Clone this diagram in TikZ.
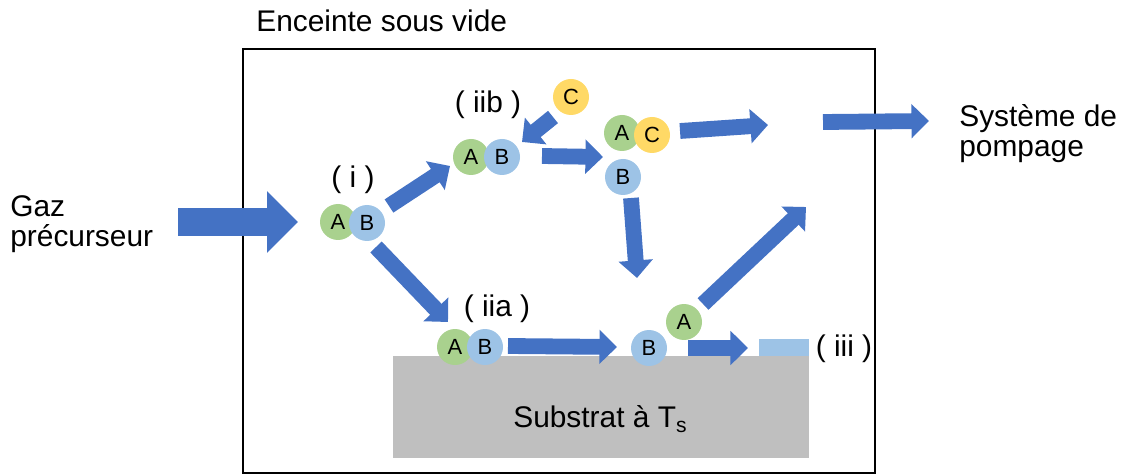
\documentclass[tikz,border=0pt]{standalone}
\usepackage{fontspec}
\setmainfont{Liberation Sans}
\usetikzlibrary{arrows.meta}
\definecolor{flowblue}{HTML}{4472C4}
\definecolor{atomgreen}{HTML}{A9D18E}
\definecolor{atomblue}{HTML}{9DC3E6}
\definecolor{atomyellow}{HTML}{FFD966}
\definecolor{substgray}{HTML}{BFBFBF}
\tikzset{
	atom/.style={circle, minimum size=0.72cm, inner sep=0pt, font=\fontsize{12.5}{14}\selectfont},
	txt/.style={anchor=base west, inner sep=0pt},
	flow/.style={draw=flowblue, line width=9pt, -{Triangle[length=10pt,width=19pt]}},
	bigflow/.style={draw=flowblue, line width=16.4pt, -{Triangle[length=17.6pt,width=34pt]}},
}
\begin{document}
\begin{tikzpicture}[x=0.02cm, y=-0.02cm, font=\fontsize{17}{20}\selectfont]
	\useasboundingbox (0,0) rectangle (1124,475);
	\draw[line width=1.1pt] (243,49) rectangle (875,473);
	\fill[substgray] (393,356) rectangle (809,458);
	\fill[atomblue] (759,339) rectangle (809,356);
	\node[txt] (subst) at (513,427) {Substrat à T\raisebox{-0.35ex}{\fontsize{12}{14}\selectfont s}};
	\node[txt] (enceinte) at (256,32) {Enceinte sous vide};
	\node[txt] (gaz) at (10,217) {Gaz};
	\node[txt] (precurseur) at (10,247) {précurseur};
	\node[txt] (systeme) at (959,127) {Système de};
	\node[txt] (pompage) at (959,157) {pompage};
	\foreach \n/\p/\t in {li/{353,180}/( i ), liib/{488,105}/( iib ), liia/{497,309}/( iia ), liii/{844,349}/( iii )}
		\node (\n) at (\p) {\t};
	\foreach \n/\p/\c/\t in {iA/{338,222}/atomgreen/A, iB/{367,223}/atomblue/B,
		iibA/{471,157}/atomgreen/A, iibB/{502,157}/atomblue/B, libreC/{571,97}/atomyellow/C,
		acA/{622,133}/atomgreen/A, acC/{652,135}/atomyellow/C, libreB/{623,177}/atomblue/B,
		iiaA/{455,347}/atomgreen/A, iiaB/{485,347}/atomblue/B,
		surfB/{649,348}/atomblue/B, desA/{684,322}/atomgreen/A}
		\node[atom, fill=\c] (\n) at (\p) {\t};
	\path
	(178,222) coordinate (in0) (298,222) coordinate (in1)
	(389,206) coordinate (a1) (450,166) coordinate (b1)
	(376,247) coordinate (a2) (448,322) coordinate (b2)
	(553,117) coordinate (a3) (522,142) coordinate (b3)
	(542,156) coordinate (a4) (603,157) coordinate (b4)
	(680,131) coordinate (a5) (768,125) coordinate (b5)
	(823,122) coordinate (a6) (929,121) coordinate (b6)
	(631,198) coordinate (a7) (637,278) coordinate (b7)
	(703,304) coordinate (a8) (806,207) coordinate (b8)
	(508,346) coordinate (a9) (617,347) coordinate (b9)
	(688,348) coordinate (a10) (748,348) coordinate (b10);
	\draw[bigflow] (in0) -- (in1);
	\foreach \k in {1,...,10} \draw[flow] (a\k) -- (b\k);
\end{tikzpicture}
\end{document}
